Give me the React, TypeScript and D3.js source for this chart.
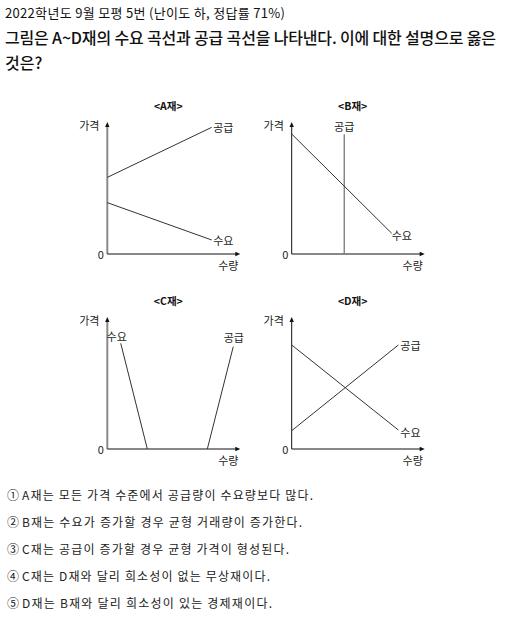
import React from "react";
import * as d3 from "d3";

// ---- data (normalized 0..100 for quantity/price) ----
const panelNames = ["<A재>", "<B재>", "<C재>", "<D재>"];
const demandA = [[0, 39.2], [78.5, 10.7]];
const supplyA = [[0, 58.5], [78.5, 96.7]];
const demandB = [[0, 91.6], [75.2, 15.8]];
const supplyB = [[39.5, 0], [39.5, 91.4]];
const demandC = [[10.1, 80.7], [30.1, 0]];
const supplyC = [[94.7, 78.1], [75.2, 0]];
const demandD = [[0, 79.4], [80.2, 14.5]];
const supplyD = [[0, 14.0], [80.2, 79.4]];
const demandLabel = "수요";
const supplyLabel = "공급";
const yAxisLabel = "가격";
const xAxisLabel = "수량";
const originLabel = "0";

const headerLine = "2022학년도 9월 모평 5번 (난이도 하, 정답률 71%)";
const questionLines = [
  "그림은 A~D재의 수요 곡선과 공급 곡선을 나타낸다. 이에 대한 설명으로 옳은",
  "것은?",
];
const questionWidths = [491, 0];
const optionMarks = ["①", "②", "③", "④", "⑤"];
const optionTexts = [
  "A재는 모든 가격 수준에서 공급량이 수요량보다 많다.",
  "B재는 수요가 증가할 경우 균형 거래량이 증가한다.",
  "C재는 공급이 증가할 경우 균형 가격이 형성된다.",
  "C재는 D재와 달리 희소성이 없는 무상재이다.",
  "D재는 B재와 달리 희소성이 있는 경제재이다.",
];
const optionWidths = [291, 280, 267, 248, 250];

const FONT = "'Noto Sans CJK KR', 'Noto Sans', sans-serif";

type Pt = number[];
interface PanelCfg {
  title: string;
  ox: number;
  oy: number;
  thickY: boolean;
  demand: Pt[];
  supply: Pt[];
  dLabel: { at: "end" | "start"; dx: number; dy: number; anchor: string };
  sLabel: { at: "end" | "start"; dx: number; dy: number; anchor: string };
  supplyGray?: boolean;
}

const panels: PanelCfg[] = [
  {
    title: panelNames[0], ox: 107.3, oy: 254, thickY: true,
    demand: demandA, supply: supplyA,
    dLabel: { at: "end", dx: 1.5, dy: 0, anchor: "start" },
    sLabel: { at: "end", dx: 1.5, dy: 0, anchor: "start" },
  },
  {
    title: panelNames[1], ox: 291.7, oy: 254, thickY: false,
    demand: demandB, supply: supplyB, supplyGray: true,
    dLabel: { at: "end", dx: 0, dy: 2, anchor: "start" },
    sLabel: { at: "end", dx: 0, dy: -8, anchor: "middle" },
  },
  {
    title: panelNames[2], ox: 107.3, oy: 449, thickY: true,
    demand: demandC, supply: supplyC,
    dLabel: { at: "start", dx: -4, dy: -7, anchor: "middle" },
    sLabel: { at: "start", dx: 0.5, dy: -9.5, anchor: "middle" },
  },
  {
    title: panelNames[3], ox: 291.7, oy: 449, thickY: false,
    demand: demandD, supply: supplyD,
    dLabel: { at: "end", dx: 2, dy: 1.5, anchor: "start" },
    sLabel: { at: "end", dx: 2, dy: 0, anchor: "start" },
  },
];

const W = 133;
const H = 131;

function Panel({ p }: { p: PanelCfg }) {
  const x = d3.scaleLinear().domain([0, 100]).range([p.ox, p.ox + W]);
  const y = d3.scaleLinear().domain([0, 100]).range([p.oy, p.oy - H]);
  const line = d3
    .line<Pt>()
    .x((d) => x(d[0]))
    .y((d) => y(d[1]));
  const tipY = y(100) - 1;
  const tipX = x(100);
  const lbl = (pts: Pt[], cfg: PanelCfg["dLabel"], text: string) => {
    const pt = cfg.at === "end" ? pts[pts.length - 1] : pts[0];
    return (
      <text
        x={x(pt[0]) + cfg.dx}
        y={y(pt[1]) + cfg.dy}
        textAnchor={cfg.anchor as any}
        dominantBaseline="central"
        fontSize={11}
        fill="#222"
      >
        {text}
      </text>
    );
  };
  return (
    <g fontFamily={FONT}>
      <text
        x={p.ox + 61}
        y={p.oy - 149}
        textAnchor="middle"
        dominantBaseline="central"
        fontSize={10.5}
        fontWeight={700}
        fill="#111"
      >
        {p.title}
      </text>
      {/* y axis */}
      <line
        x1={p.ox}
        x2={p.ox}
        y1={p.oy}
        y2={tipY + 4}
        stroke={p.thickY ? "#8a8a8a" : "#111"}
        strokeWidth={p.thickY ? 2 : 1}
      />
      <path
        d={`M${p.ox - 2.2},${tipY + 5} L${p.ox},${tipY} L${p.ox + 2.2},${tipY + 5} Z`}
        fill="#111"
      />
      {/* x axis */}
      <line x1={p.ox} x2={tipX - 4} y1={p.oy} y2={p.oy} stroke="#111" strokeWidth={1} />
      <path
        d={`M${tipX - 5},${p.oy - 2.2} L${tipX},${p.oy} L${tipX - 5},${p.oy + 2.2} Z`}
        fill="#111"
      />
      <text
        x={p.ox - 18}
        y={tipY + 3}
        textAnchor="middle"
        dominantBaseline="central"
        fontSize={11}
        fill="#222"
      >
        {yAxisLabel}
      </text>
      <text
        x={p.ox - 6.5}
        y={p.oy}
        textAnchor="middle"
        dominantBaseline="central"
        fontSize={11}
        fill="#222"
      >
        {originLabel}
      </text>
      <text
        x={tipX - 12}
        y={p.oy + 10.5}
        textAnchor="middle"
        dominantBaseline="central"
        fontSize={11}
        fill="#222"
      >
        {xAxisLabel}
      </text>
      <path d={line(p.supply) || ""} fill="none" stroke={p.supplyGray ? "#777" : "#333"} strokeWidth={p.supplyGray ? 1.3 : 1} />
      <path d={line(p.demand) || ""} fill="none" stroke="#333" strokeWidth={1} />
      {lbl(p.demand, p.dLabel, demandLabel)}
      {lbl(p.supply, p.sLabel, supplyLabel)}
    </g>
  );
}

export default function App() {
  return (
    <svg
      width={507}
      height={619}
      style={{ position: "absolute", left: 0, top: 0, background: "#fff" }}
      fontFamily={FONT}
    >
      <rect x={0} y={0} width={507} height={619} fill="#fff" />
      <text
        x={5}
        y={12}
        dominantBaseline="central"
        fontSize={13}
        textLength={280}
        lengthAdjust="spacing"
        fill="#111"
      >
        {headerLine}
      </text>
      {questionLines.map((t, i) => (
        <text
          key={i}
          x={5}
          y={37 + i * 25}
          dominantBaseline="central"
          fontSize={16}
          fontWeight={500}
          textLength={questionWidths[i] || undefined}
          lengthAdjust="spacing"
          fill="#111"
        >
          {t}
        </text>
      ))}
      {panels.map((p, i) => (
        <Panel key={i} p={p} />
      ))}
      {optionTexts.map((t, i) => (
        <g key={i}>
          <text x={7} y={494 + i * 27} dominantBaseline="central" fontSize={12} fill="#222">
            {optionMarks[i]}
          </text>
          <text
            x={22}
            y={494 + i * 27}
            dominantBaseline="central"
            fontSize={12}
            textLength={optionWidths[i]}
            lengthAdjust="spacing"
            fill="#222"
          >
            {t}
          </text>
        </g>
      ))}
    </svg>
  );
}
